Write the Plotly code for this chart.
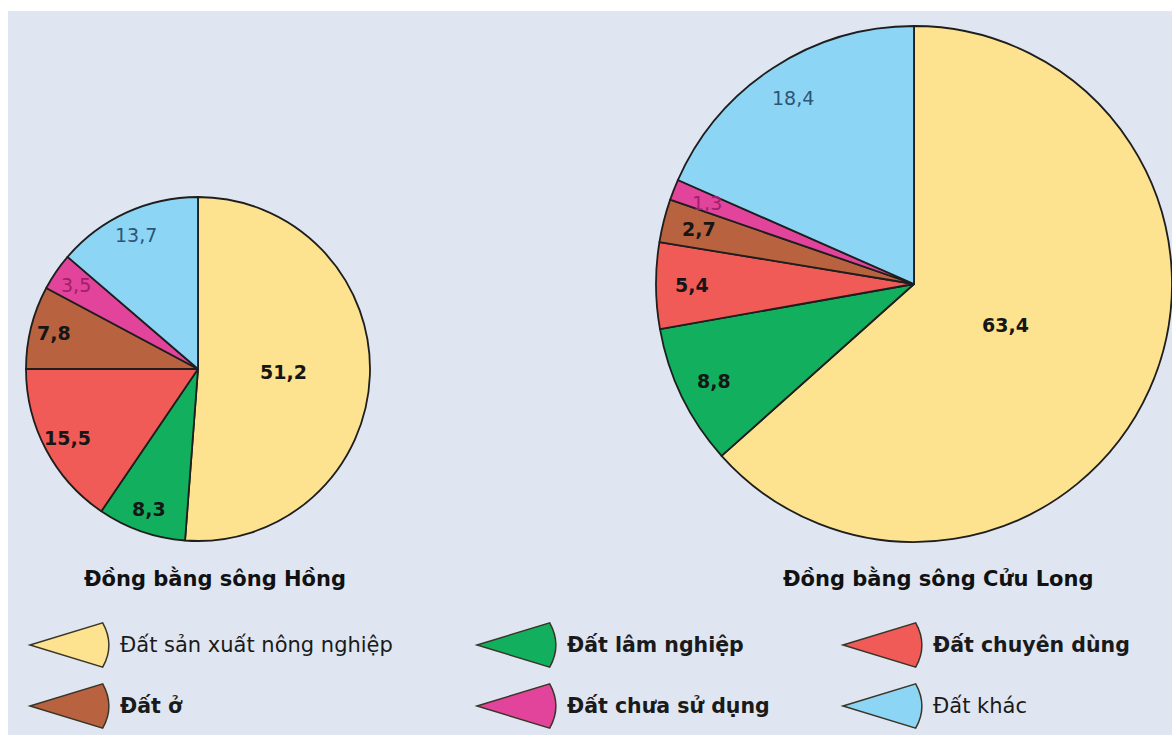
import math
import plotly.graph_objects as go

W, H = 1172, 735

# Land-use structure (%), two regions
categories = ["Đất sản xuất nông nghiệp", "Đất lâm nghiệp", "Đất chuyên dùng",
              "Đất ở", "Đất chưa sử dụng", "Đất khác"]
song_hong = [51.2, 8.3, 15.5, 7.8, 3.5, 13.7]
cuu_long = [63.4, 8.8, 5.4, 2.7, 1.3, 18.4]
region_names = ["Đồng bằng sông Hồng", "Đồng bằng sông Cửu Long"]

colors = ["#fde28f", "#12b05e", "#f15b57", "#b8623f", "#e2439b", "#8dd5f4"]
label_colors = ["#161616", "#161616", "#161616", "#161616", "#a01f6c", "#2c5577"]
label_bold = [True, True, True, True, False, False]
legend_bold = [False, True, True, True, True, False]

BG = "#dfe6f1"
FONT = "DejaVu Sans"


def px(x):
    return x / W


def py(y):
    return 1 - y / H


# pie geometry in pixels: centre x, centre y, radius, label radius for the big slice
pies = [
    (198, 369, 172, 0.5, song_hong),
    (914, 284, 258, 0.39, cuu_long),
]

fig = go.Figure()
annotations = []

for cx, cy, r, big_frac, vals in pies:
    fig.add_trace(go.Pie(
        values=vals,
        labels=categories,
        sort=False,
        direction="clockwise",
        rotation=0,
        textinfo="none",
        hoverinfo="label+value",
        showlegend=False,
        marker=dict(colors=colors, line=dict(color="#1e1e1e", width=1.8)),
        domain=dict(x=[px(cx - r), px(cx + r)], y=[py(cy + r), py(cy - r)]),
    ))
    # value labels placed along each slice's mid-angle
    total = sum(vals)
    cum = 0.0
    for i, v in enumerate(vals):
        mid = (cum + v / 2) / total * 2 * math.pi
        cum += v
        frac = big_frac if v > 40 else 0.86
        lx = cx + r * frac * math.sin(mid)
        ly = cy - r * frac * math.cos(mid)
        txt = f"{v:.1f}".replace(".", ",")
        annotations.append(dict(
            x=px(lx), y=py(ly), xref="paper", yref="paper",
            text=txt, showarrow=False, xanchor="center", yanchor="middle",
            font=dict(family=FONT, size=19, color=label_colors[i],
                      weight="bold" if label_bold[i] else "normal"),
        ))

# region titles
for name, (tx, ty) in zip(region_names, [(215, 578), (938, 578)]):
    annotations.append(dict(
        x=px(tx), y=py(ty), xref="paper", yref="paper", text=name,
        showarrow=False, xanchor="center", yanchor="middle",
        font=dict(family=FONT, size=21, color="#111111", weight="bold"),
    ))

# legend: wedge icons + labels, 3 columns x 2 rows
col_x = [30, 477, 843]
row_y = [645, 706]
shapes = [
    dict(type="rect", xref="paper", yref="paper", x0=px(8), x1=1, y0=0, y1=py(11),
         fillcolor=BG, line=dict(width=0), layer="below"),
]
for i, cat in enumerate(categories):
    col = i % 3
    row = i // 3
    ax, ay = col_x[col], row_y[row]
    R, half = 76, math.radians(17)
    tx_, ty_ = ax + R * math.cos(half), ay - R * math.sin(half)
    bx_, by_ = ax + R * math.cos(half), ay + R * math.sin(half)
    qx, qy = ax + R * 1.12, ay
    path = (f"M {px(ax)},{py(ay)} L {px(tx_)},{py(ty_)} "
            f"Q {px(qx)},{py(qy)} {px(bx_)},{py(by_)} Z")
    shapes.append(dict(type="path", xref="paper", yref="paper", path=path,
                       fillcolor=colors[i], line=dict(color="#3a3528", width=1.5)))
    annotations.append(dict(
        x=px(ax + 88), y=py(ay), xref="paper", yref="paper", text=cat,
        showarrow=False, xanchor="left", yanchor="middle",
        font=dict(family=FONT, size=21 if not legend_bold[i] else 20.5,
                  color="#1a1a1a",
                  weight="bold" if legend_bold[i] else "normal"),
    ))

fig.update_layout(
    width=W, height=H,
    margin=dict(l=0, r=0, t=0, b=0),
    paper_bgcolor="white",
    plot_bgcolor="rgba(0,0,0,0)",
    shapes=shapes,
    annotations=annotations,
)

fig.write_html("out.html", config={"displayModeBar": False})
